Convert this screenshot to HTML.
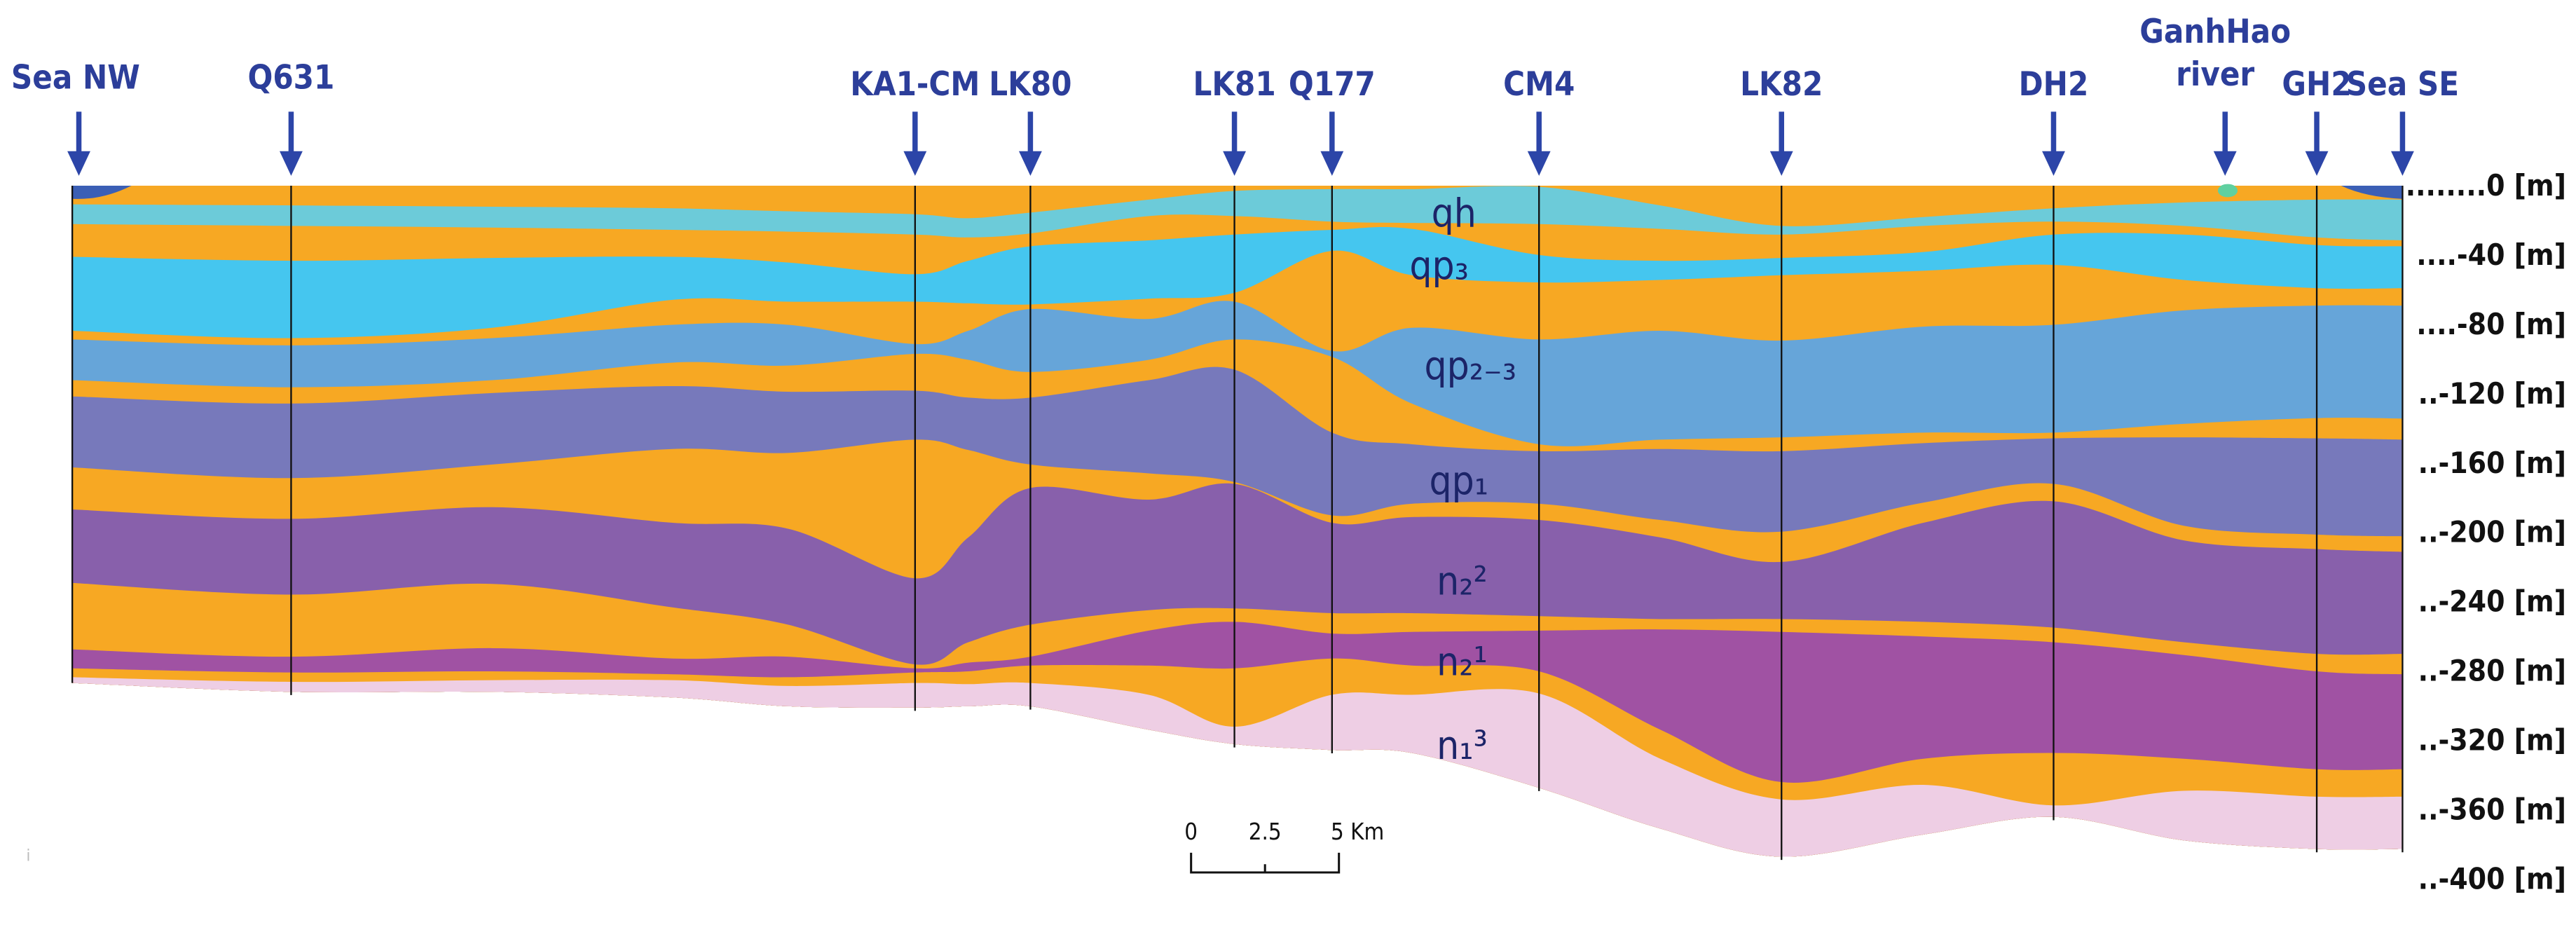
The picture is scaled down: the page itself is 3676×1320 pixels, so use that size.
<!DOCTYPE html>
<html><head><meta charset="utf-8"><style>
html,body{margin:0;padding:0;background:#fff;}
svg{display:block;}
text{font-family:"DejaVu Sans Condensed","Liberation Sans",sans-serif;}
</style></head><body>
<svg id="chart" width="3676" height="1320" viewBox="0 0 1568 563" preserveAspectRatio="none" xmlns="http://www.w3.org/2000/svg">
<g id="layers"></g>
<g id="wells"></g>
<g id="labels"></g>
<g id="axis"></g>
<g font-size="14" fill="#111">
<text x="725" y="511" text-anchor="middle">0</text>
<text x="770" y="511" text-anchor="middle">2.5</text>
<text x="810" y="511">5 Km</text>
<path d="M725,519 V531 H815 V519 M770,526 V531" stroke="#111" stroke-width="1.3" fill="none"/>
</g>
<text x="16" y="524" font-size="10" fill="#bbb">i</text>
</svg>
<script>
// distance along section (km) of control stations
const stationsKm=[0,7.4,14.2,20.3,24.2,28.5,30.3,32.4,36.4,39.3,42.6,45.3,49.6,53.7,57.8,62.6,67.0,71.4,75.9,78.8];
// layer-top boundary depths (m) at each station
const b1=[10.8,11.4,12.1,13.1,14.8,16.5,18.8,15.5,8.1,3.0,2.0,2.0,0.7,11.4,23.2,18.1,13.1,9.7,8.1,8.1];
const b2=[22.2,23.2,24.2,25.5,26.5,28.2,29.9,27.6,17.5,17.5,20.8,21.5,22.2,24.9,28.2,23.2,20.8,23.2,29.9,31.6];
const b3=[41,43.3,41.7,41,44.4,51.1,43.3,35,31.6,28.2,25.5,24.9,40,43.3,41.7,38.3,28.2,28.2,34.3,35];
const b4=[83.7,88,82,65.9,66.9,66.9,67.9,68.5,65.2,61.8,37.6,51.7,55.8,54.4,51.7,49.1,45.7,54.4,59.1,59.1];
const b5=[88.7,92.1,88,80.3,80.3,91.4,83.7,71.2,76.9,66.9,95.4,82,88.7,83.7,89.4,81.3,80.3,71.9,69.2,69.2];
const b6=[112.2,116.3,112.2,102.1,103.8,97.1,100.5,107.5,100.5,88.7,98.8,125.7,149.2,146.5,145.2,142.5,142.5,137.4,134.1,134.4];
const b7=[121.6,125.7,119.6,115.6,118.9,118.3,122.3,122.3,112.2,106.2,142.5,149.2,153.2,151.9,153.2,148.5,145.8,145.2,145.8,146.5];
const b8=[162.6,168.7,160.9,151.9,154.2,146.5,152.5,160.9,166,171,190.2,183.5,183.5,192.9,199.6,182.8,172,196.2,201.3,202.3];
const b9=[186.8,192.2,185.5,194.5,197.9,226.5,202.9,174.4,181.1,172,194.5,191.2,192.9,202.9,217.1,194.5,182.1,204.6,209.7,211.3];
const b10=[229.2,235.9,229.8,243.3,253.3,276.2,263.4,253.3,244.9,243.9,246.6,246.6,248.3,250,250,251.7,255,263.4,270.1,270.1];
const b11=[267.5,271.8,266.8,272.8,271.8,278.5,275.2,271.8,256.7,251.7,258.4,257.4,256.7,256,257.4,260.1,263.4,270.8,280.2,281.9];
const b12=[278.5,280.9,280.2,281.9,283.6,280.9,280.2,276.9,276.9,278.5,272.8,276.9,280.2,313.8,344.1,330.6,327.3,330.6,336.7,336.7];
const b13=[283.6,286.3,285.3,285.3,288.6,286.9,287.6,286.9,293.7,312.1,293.7,293.7,293,330.6,354.1,345.7,357.5,349.1,352.5,352.5];
const bottom=[286.9,292,292,295.3,300.4,301.1,300.4,300.4,313.8,322.2,325.6,327.3,347.4,370.9,387.1,374.3,364.2,377.7,382.7,382.7];
const wellNames=["Sea NW","Q631","KA1-CM","LK80","LK81","Q177","CM4","LK82","DH2","GanhHao river","GH2","Sea SE"];
const wellKm=[0,7.4,28.5,32.4,39.3,42.6,49.6,57.8,67.0,72.8,75.9,78.8];
const tickDepths=[0,40,80,120,160,200,240,280,320,360,400];

const NS="http://www.w3.org/2000/svg";
const X=km=>44+km*18;
const Y=d=>113+d*1.055;
function mk(t,a,p){const e=document.createElementNS(NS,t);for(const k in a)e.setAttribute(k,a[k]);p.appendChild(e);return e;}
function curve(arr,rev){
  let pts=stationsKm.map((k,i)=>[X(k),Y(arr[i])]);
  if(rev)pts=pts.reverse();
  let d=(rev?"L":"M")+pts[0][0].toFixed(1)+","+pts[0][1].toFixed(1);
  for(let i=0;i<pts.length-1;i++){
    const p0=pts[Math.max(i-1,0)],p1=pts[i],p2=pts[i+1],p3=pts[Math.min(i+2,pts.length-1)];
    const c1=[p1[0]+(p2[0]-p0[0])/6,p1[1]+(p2[1]-p0[1])/6],c2=[p2[0]-(p3[0]-p1[0])/6,p2[1]-(p3[1]-p1[1])/6];
    d+=`C${c1[0].toFixed(1)},${c1[1].toFixed(1)} ${c2[0].toFixed(1)},${c2[1].toFixed(1)} ${p2[0].toFixed(1)},${p2[1].toFixed(1)}`;
  }
  return d;
}
const zero=stationsKm.map(()=>0);
const bounds=[zero,b1,b2,b3,b4,b5,b6,b7,b8,b9,b10,b11,b12,b13];
const colors=["#f7a823","#6ccbd9","#f7a823","#45c6ef","#f7a823","#66a5d9","#f7a823","#7779bb","#f7a823","#8860ab","#f7a823","#a052a3","#f7a823","#eecee4"];
const layerNames=["surface-clay","qh-aquifer","qh-aquitard","qp3-aquifer","qp3-aquitard","qp23-aquifer","qp23-aquitard","qp1-aquifer","qp1-aquitard","n22-aquifer","n22-aquitard","n21-aquifer","n21-aquitard","n13-aquifer"];
const LG=document.getElementById("layers");
bounds.forEach((b,i)=>{
  const p=mk("path",{d:curve(b,false)+curve(bottom,true)+"Z",fill:colors[i]},LG);
  
  
});
let s=mk("path",{d:"M44,113 H80 Q62,122 44,121 Z",fill:"#3b5fb5"},LG);


s=mk("path",{d:"M1462,113 H1425 Q1440,120 1462,121 Z",fill:"#3b5fb5"},LG);


s=mk("ellipse",{cx:1356,cy:116,rx:6,ry:4,fill:"#5fd0a0"},LG);



function interpBottom(km){
  for(let i=0;i<stationsKm.length-1;i++){if(km<=stationsKm[i+1]){const t=(km-stationsKm[i])/(stationsKm[i+1]-stationsKm[i]);return bottom[i]+t*(bottom[i+1]-bottom[i]);}}
  return bottom[bottom.length-1];
}
const WG=document.getElementById("wells");
wellNames.forEach((n,i)=>{
  const x=X(wellKm[i]);
  const g=mk("g",{},WG);
  
  
  if(n!=="GanhHao river"){
    mk("line",{x1:x,y1:113,x2:x,y2:Y(interpBottom(wellKm[i]))+(i===0?0:2),stroke:"#111","stroke-width":1},g);
  }
  const ax=(i===0)?x+4:x;
  mk("line",{x1:ax,y1:68,x2:ax,y2:95,stroke:"#2c45a8","stroke-width":3.2},g);
  mk("path",{d:`M${ax-7},92 L${ax+7},92 L${ax},107 Z`,fill:"#2c45a8"},g);
  if(n==="GanhHao river"){
    mk("text",{x:ax-6,y:26,"text-anchor":"middle","font-size":20,fill:"#2c3e9a","font-weight":"bold"},g).textContent="GanhHao";
    mk("text",{x:ax-6,y:52,"text-anchor":"middle","font-size":20,fill:"#2c3e9a","font-weight":"bold"},g).textContent="river";
  }else{
    mk("text",{x:(i===0?46:ax),y:i<2?54:58,"text-anchor":"middle","font-size":20,fill:"#2c3e9a","font-weight":"bold"},g).textContent=n;
  }
});
const LB=document.getElementById("labels");
const lab=[["qh",885,138],["qp₃",876,170],["qp₂₋₃",895,231],["qp₁",888,301],["n₂²",890,362],["n₂¹",890,411],["n₁³",890,462]];
lab.forEach(l=>{const t=mk("text",{x:l[1],y:l[2],"text-anchor":"middle","font-size":24,fill:"#1c2468"},LB);t.textContent=l[0];
  
  });
const AX=document.getElementById("axis");
tickDepths.forEach(d=>{
  const t=mk("text",{x:1562,y:113+d*1.055+6,"text-anchor":"end","font-size":18,"font-weight":"bold",fill:"#111"},AX);
  t.textContent=(d===0?"........0":(d<100?"....-"+d:"..-"+d))+" [m]";
  
  
});
</script>
</body></html>
